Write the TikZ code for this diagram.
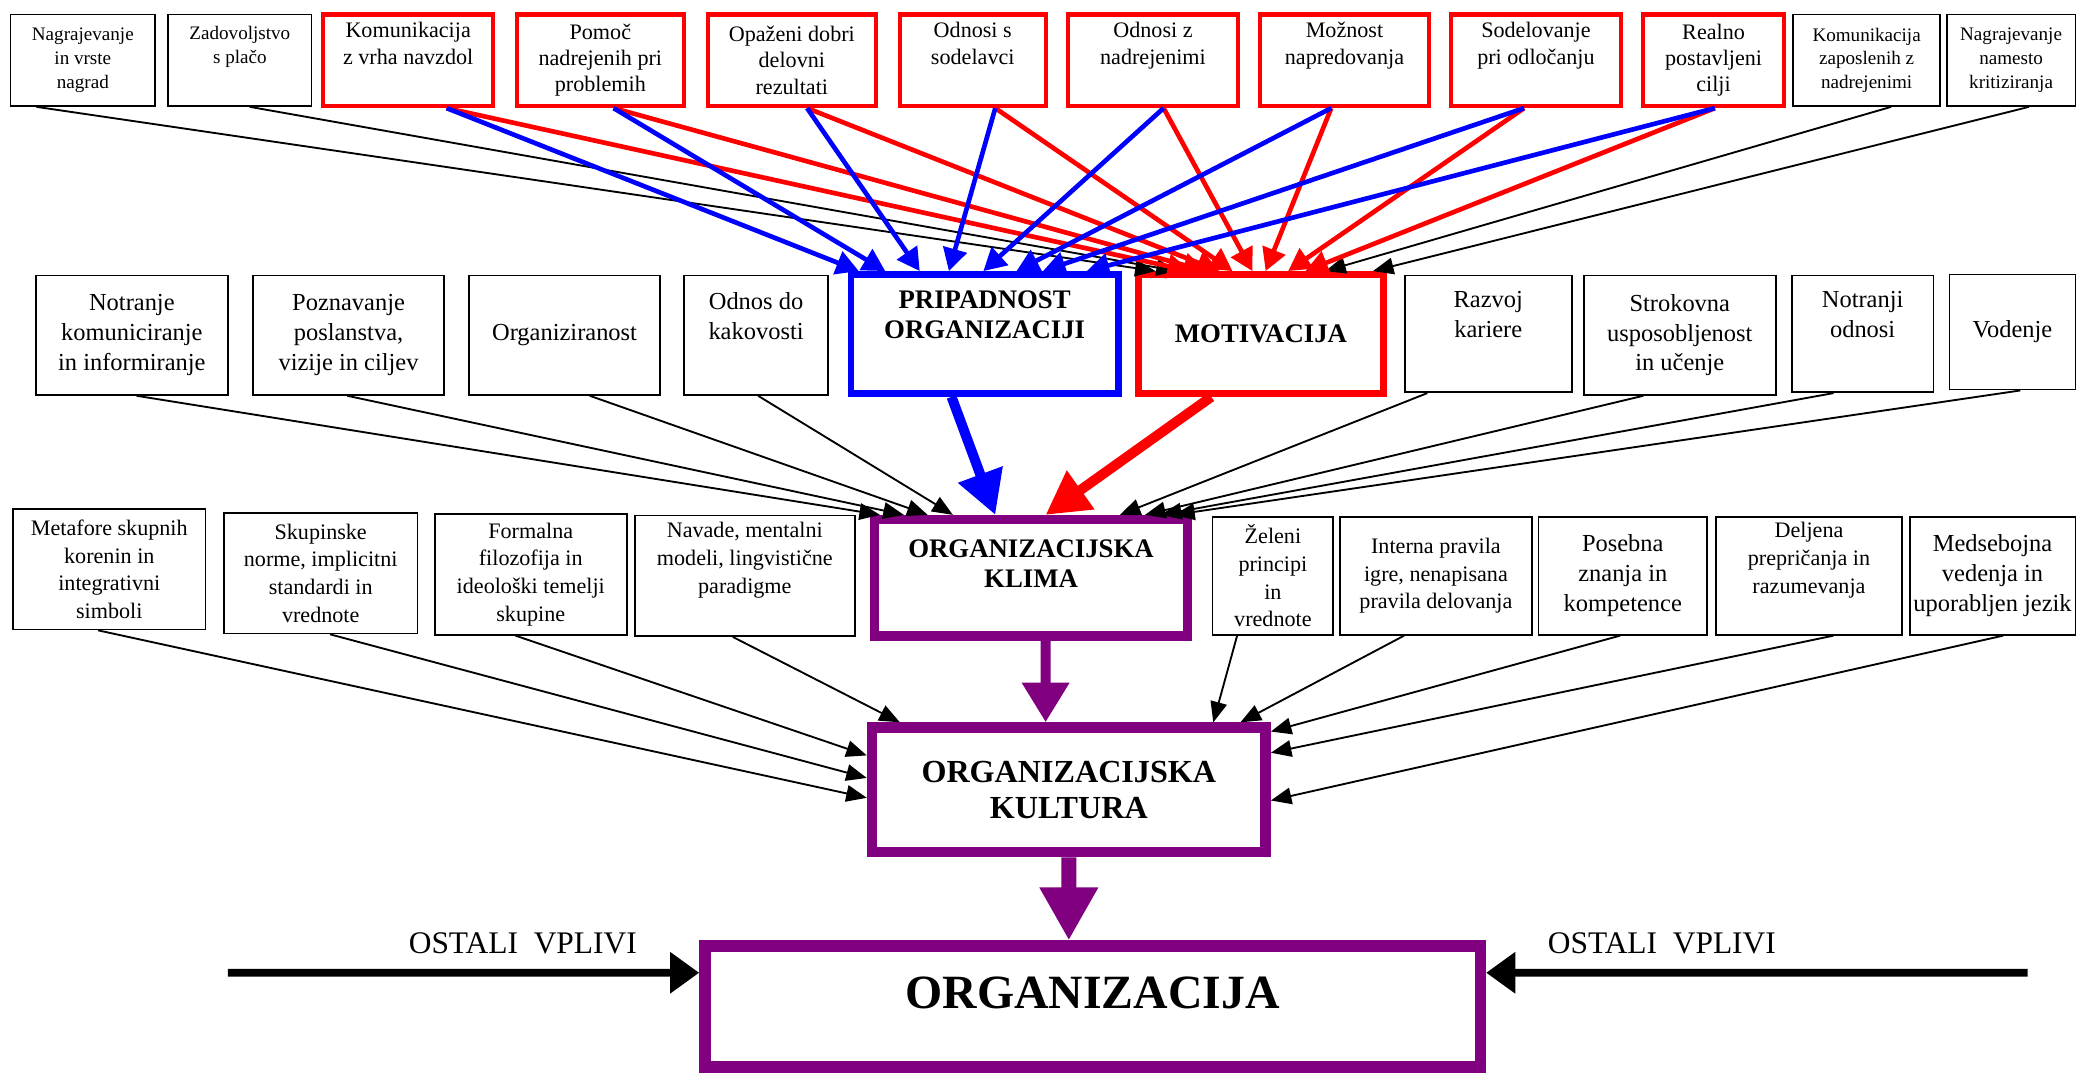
\documentclass[tikz,border=0pt]{standalone}
\usepackage{fontspec}
\setmainfont{Liberation Serif}
\usetikzlibrary{arrows.meta}
\definecolor{orgpurple}{RGB}{128,0,128}
\tikzset{
  box/.style={draw, line width=0.7pt, align=center, inner sep=1pt, font=\fontsize{10.5}{12.8}\selectfont},
  smallbox/.style={box, font=\fontsize{8.2}{10.2}\selectfont},
  rowbox/.style={box, font=\fontsize{9.5}{11.9}\selectfont},
  redbox/.style={box, draw=red, line width=1.8pt, font=\fontsize{9.5}{11.3}\selectfont},
  keybox/.style={box, line width=2.8pt, font=\bfseries\fontsize{11.5}{13}\selectfont},
  culbox/.style={box, draw=orgpurple, font=\bfseries\fontsize{11.5}{13}\selectfont},
  thinarr/.style={-{Triangle[length=3.1mm,width=2.5mm]}, line width=0.8pt},
  bluearr/.style={-{Triangle[length=3.4mm,width=3.6mm]}, blue, line width=2pt},
  redarr/.style={-{Triangle[length=3.4mm,width=3.6mm]}, red, line width=2pt},
  bigarr/.style={-{Triangle[length=6.5mm,width=6.8mm]}, line width=4.3pt},
  ostali/.style={font=\fontsize{13.5}{16}\selectfont}
}
\begin{document}
\begin{tikzpicture}[x=0.2mm, y=-0.2mm]
  \useasboundingbox (0,0) rectangle (1568,810);

  % Top row
  \node[smallbox, minimum width=21.8mm, minimum height=13.8mm] (nagr) at (62.5,45.5) {Nagrajevanje\\in vrste\\nagrad};
  \node[smallbox, minimum width=21.6mm, minimum height=13.8mm] (zadov) at (181,45.5) {Zadovoljstvo\\s plačo\\ \strut};
  \node[redbox, minimum width=25.6mm, minimum height=13.8mm] (komvrh) at (308,45.5) {Komunikacija\\z vrha navzdol\\ \strut};
  \node[redbox, minimum width=25.2mm, minimum height=13.8mm] (pomoc) at (453,45.5) {Pomoč\\nadrejenih pri\\problemih};
  \node[redbox, minimum width=25.4mm, minimum height=13.8mm] (opazeni) at (597.5,45.5) {Opaženi dobri\\delovni\\rezultati};
  \node[redbox, minimum width=22mm, minimum height=13.8mm] (sodel) at (734,45.5) {Odnosi s\\sodelavci\\ \strut};
  \node[redbox, minimum width=25.6mm, minimum height=13.8mm] (nadrej) at (870,45.5) {Odnosi z\\nadrejenimi\\ \strut};
  \node[redbox, minimum width=25.4mm, minimum height=13.8mm] (mozn) at (1014.5,45.5) {Možnost\\napredovanja\\ \strut};
  \node[redbox, minimum width=25.6mm, minimum height=13.8mm] (odloc) at (1159,45.5) {Sodelovanje\\pri odločanju\\ \strut};
  \node[redbox, minimum width=21.2mm, minimum height=13.8mm] (cilji) at (1293,45.5) {Realno\\postavljeni\\cilji};
  \node[smallbox, minimum width=22.2mm, minimum height=13.8mm] (komzap) at (1408.5,45.5) {Komunikacija\\zaposlenih z\\nadrejenimi};
  \node[smallbox, minimum width=19.4mm, minimum height=13.8mm] (nagrnam) at (1517.5,45.5) {Nagrajevanje\\namesto\\kritiziranja};

  % Second row
  \node[box, minimum width=29mm, minimum height=18mm] (notkom) at (99.5,253) {Notranje\\komuniciranje\\in informiranje};
  \node[box, minimum width=28.8mm, minimum height=18mm] (pozn) at (263,253) {Poznavanje\\poslanstva,\\vizije in ciljev};
  \node[box, minimum width=28.8mm, minimum height=18mm] (orgzir) at (426,253) {Organiziranost};
  \node[box, minimum width=21.8mm, minimum height=18mm] (kakov) at (570.5,253) {Odnos do\\kakovosti\\ \strut};
  \node[keybox, draw=blue, minimum width=40.4mm, minimum height=18mm] (prip) at (743,252) {PRIPADNOST\\ORGANIZACIJI\\ \strut};
  \node[keybox, draw=red, minimum width=37mm, minimum height=18mm] (motiv) at (951.5,252) {MOTIVACIJA};
  \node[box, minimum width=25.2mm, minimum height=17.6mm] (razvoj) at (1123,252) {Razvoj\\kariere\\ \strut};
  \node[box, minimum width=29mm, minimum height=18mm] (strok) at (1267.5,253) {Strokovna\\usposobljenost\\in učenje};
  \node[box, minimum width=21.4mm, minimum height=17.6mm] (notodn) at (1405.5,252) {Notranji\\odnosi\\ \strut};
  \node[box, minimum width=19mm, minimum height=17.4mm] (vodenje) at (1518.5,250.5) {Vodenje};

  % Third row
  \node[rowbox, minimum width=29mm, minimum height=18.2mm] (metaf) at (82.5,429.5) {Metafore skupnih\\korenin in\\integrativni\\simboli};
  \node[rowbox, minimum width=29.2mm, minimum height=18.2mm] (skup) at (242,432.5) {Skupinske\\norme, implicitni\\standardi in\\vrednote};
  \node[rowbox, minimum width=29mm, minimum height=18.2mm] (formal) at (400.5,433.5) {Formalna\\filozofija in\\ideološki temelji\\skupine};
  \node[rowbox, minimum width=33.2mm, minimum height=18.2mm] (navade) at (562,434.5) {Navade, mentalni\\modeli, lingvistične\\paradigme\\ \strut};
  \node[culbox, line width=4pt, text depth=12pt, minimum width=47.2mm, minimum height=17.6mm] (klima) at (778,436) {ORGANIZACIJSKA\\KLIMA};
  \node[rowbox, minimum width=18.2mm, minimum height=17.8mm] (zeleni) at (960.5,434.5) {Želeni\\principi\\in\\vrednote};
  \node[rowbox, minimum width=29mm, minimum height=17.8mm] (interna) at (1083.5,434.5) {Interna pravila\\igre, nenapisana\\pravila delovanja};
  \node[box, minimum width=25.4mm, minimum height=17.8mm] (posebna) at (1224.5,434.5) {Posebna\\znanja in\\kompetence};
  \node[rowbox, minimum width=28mm, minimum height=17.8mm] (deljena) at (1365,434.5) {Deljena\\prepričanja in\\razumevanja\\ \strut};
  \node[box, minimum width=25mm, minimum height=17.8mm] (medseb) at (1503.5,434.5) {Medsebojna\\vedenja in\\uporabljen jezik};

  % Culture and organisation
  \node[culbox, line width=4.5pt, font=\bfseries\fontsize{13.8}{15.7}\selectfont, minimum width=59.4mm, minimum height=18.8mm] (kultura) at (806.5,596) {ORGANIZACIJSKA\\KULTURA};
  \node[culbox, line width=5pt, font=\bfseries\fontsize{20.5}{24}\selectfont, text depth=12pt, minimum width=117mm, minimum height=18.2mm] (org) at (824.5,759.5) {ORGANIZACIJA};
  \node[ostali] (ostlab1) at (394.5,712) {OSTALI\ \ VPLIVI};
  \node[ostali] (ostlab2) at (1254,712) {OSTALI\ \ VPLIVI};
  \coordinate (ostl) at (172,734);
  \coordinate (ostr) at (1530,734);

  % Arrows into PRIPADNOST and MOTIVACIJA
  \draw[thinarr] ([xshift=-7mm]nagr.south) -- ([xshift=-15.9mm]motiv.north);
  \draw[thinarr] ([xshift=1.5mm]zadov.south) -- ([xshift=-12.7mm]motiv.north);
  \draw[thinarr] ([xshift=3.7mm]komzap.south) -- ([xshift=9.7mm]motiv.north);
  \draw[thinarr] ([xshift=2.7mm]nagrnam.south) -- ([xshift=16.9mm]motiv.north);
  \draw[redarr] ([xshift=5.8mm]komvrh.south) -- ([xshift=-10.7mm]motiv.north);
  \draw[redarr] ([xshift=2mm]pomoc.south) -- ([xshift=-8.3mm]motiv.north);
  \draw[redarr] ([xshift=2.3mm]opazeni.south) -- ([xshift=-6.3mm]motiv.north);
  \draw[redarr] ([xshift=3.4mm]sodel.south) -- ([xshift=-4.3mm]motiv.north);
  \draw[redarr] ([xshift=1.6mm]nadrej.south) -- ([xshift=-1.3mm]motiv.north);
  \draw[redarr] ([xshift=-2mm]mozn.south) -- ([xshift=0.7mm]motiv.north);
  \draw[redarr] ([xshift=-1.8mm]odloc.south) -- ([xshift=4.1mm]motiv.north);
  \draw[redarr] ([xshift=0.2mm]cilji.south) -- ([xshift=6.7mm]motiv.north);
  \draw[bluearr] ([xshift=5.8mm]komvrh.south) -- ([xshift=-19mm]prip.north);
  \draw[bluearr] ([xshift=2mm]pomoc.south) -- ([xshift=-15mm]prip.north);
  \draw[bluearr] ([xshift=2.3mm]opazeni.south) -- ([xshift=-9.8mm]prip.north);
  \draw[bluearr] ([xshift=3.4mm]sodel.south) -- ([xshift=-5.4mm]prip.north);
  \draw[bluearr] ([xshift=1.6mm]nadrej.south) -- ([xshift=-0.2mm]prip.north);
  \draw[bluearr] ([xshift=-2mm]mozn.south) -- ([xshift=4.8mm]prip.north);
  \draw[bluearr] ([xshift=-1.8mm]odloc.south) -- ([xshift=8.8mm]prip.north);
  \draw[bluearr] ([xshift=0.2mm]cilji.south) -- ([xshift=15.4mm]prip.north);

  % Arrows into KLIMA
  \draw[thinarr] ([xshift=0.7mm]notkom.south) -- ([xshift=-22.8mm]klima.north);
  \draw[thinarr] ([xshift=-0.2mm]pozn.south) -- ([xshift=-19.2mm]klima.north);
  \draw[thinarr] ([xshift=3.8mm]orgzir.south) -- ([xshift=-15.6mm]klima.north);
  \draw[thinarr] ([xshift=0.3mm]kakov.south) -- ([xshift=-11.8mm]klima.north);
  \draw[thinarr] ([xshift=-9.2mm]razvoj.south) -- ([xshift=13.4mm]klima.north);
  \draw[thinarr] ([xshift=-5.5mm]strok.south) -- ([xshift=17.2mm]klima.north);
  \draw[thinarr] ([xshift=-4.4mm]notodn.south) -- ([xshift=19.6mm]klima.north);
  \draw[thinarr] ([xshift=1.2mm]vodenje.south) -- ([xshift=21.6mm]klima.north);
  \draw[bigarr, blue] ([xshift=-5mm]prip.south) -- ([xshift=-5.4mm]klima.north);
  \draw[bigarr, red] ([xshift=-7.5mm]motiv.south) -- ([xshift=2.2mm]klima.north);

  % Arrows into KULTURA
  \draw[thinarr] ([xshift=-1.7mm]metaf.south) -- ([yshift=-1.2mm]kultura.west);
  \draw[thinarr] ([xshift=1.4mm]skup.south) -- ([yshift=1.8mm]kultura.west);
  \draw[thinarr] ([xshift=-2.3mm]formal.south) -- ([yshift=5.2mm]kultura.west);
  \draw[thinarr] ([xshift=-1.8mm]navade.south) -- ([xshift=-25.5mm]kultura.north);
  \draw[thinarr] ([xshift=-5.4mm]zeleni.south) -- ([xshift=21.8mm]kultura.north);
  \draw[thinarr] ([xshift=-4.8mm]interna.south) -- ([xshift=25.9mm]kultura.north);
  \draw[thinarr] ([xshift=-0.4mm]posebna.south) -- ([yshift=8.8mm]kultura.east);
  \draw[thinarr] ([xshift=3.7mm]deljena.south) -- ([yshift=5.6mm]kultura.east);
  \draw[thinarr] ([xshift=1.6mm]medseb.south) -- ([yshift=-1.6mm]kultura.east);
  \draw[-{Triangle[length=6mm,width=6.8mm]}, orgpurple, line width=4.3pt] ([xshift=2.2mm]klima.south) -- ([xshift=-3.5mm]kultura.north);

  % Into ORGANIZACIJA
  \draw[-{Triangle[length=8mm,width=8.3mm]}, orgpurple, line width=6.4pt] (kultura.south) -- ([xshift=-3.6mm]org.north);
  \draw[-{Triangle[length=4.4mm,width=6mm]}, line width=3.4pt] (ostl) -- ([yshift=5.1mm]org.west);
  \draw[-{Triangle[length=4.4mm,width=6mm]}, line width=3.4pt] (ostr) -- ([yshift=5.1mm]org.east);
\end{tikzpicture}
\end{document}
